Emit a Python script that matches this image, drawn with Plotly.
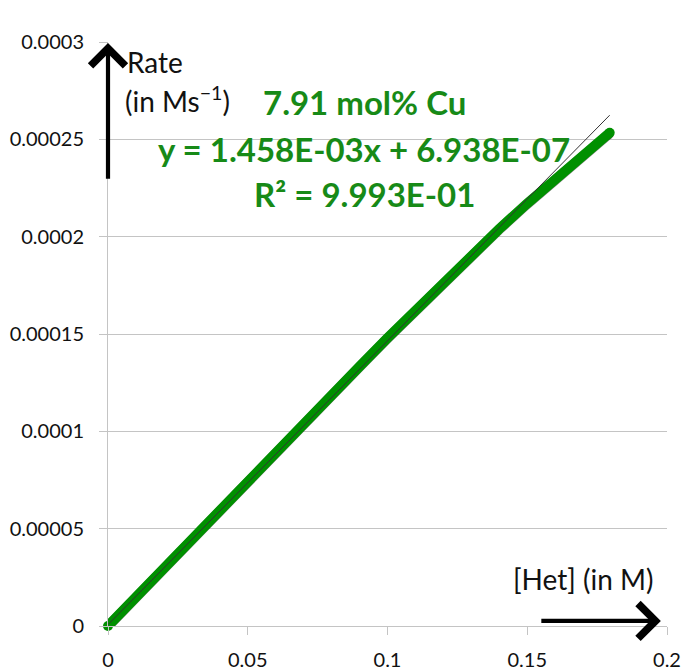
import plotly.graph_objects as go

# ---- data ----
het = [0.0, 0.01, 0.02, 0.03, 0.04, 0.05, 0.06, 0.07, 0.08, 0.09, 0.10,
       0.11, 0.12, 0.13, 0.14, 0.15, 0.16, 0.17, 0.1795]
rate = [0.0, 0.0000150, 0.0000298, 0.0000445, 0.0000595, 0.0000742, 0.0000890,
        0.0001038, 0.0001185, 0.0001333, 0.0001479, 0.0001622, 0.0001764,
        0.0001904, 0.0002040, 0.0002171, 0.0002298, 0.0002420, 0.0002534]
fit_slope = 1.458e-03
fit_intercept = 6.938e-07
fit_x = [0.0, 0.1795]
fit_y = [fit_slope * v + fit_intercept for v in fit_x]

y_tickvals = [0, 0.00005, 0.0001, 0.00015, 0.0002, 0.00025, 0.0003]
y_ticktext = ["0", "0.00005", "0.0001", "0.00015", "0.0002", "0.00025", "0.0003"]
x_tickvals = [0, 0.05, 0.1, 0.15, 0.2]
x_ticktext = ["0", "0.05", "0.1", "0.15", "0.2"]

W, H = 681, 672
L, R, T, B = 108, 14, 42, 46
PW, PH = W - L - R, H - T - B
XR = [0, 0.2]
YR = [0, 0.0003]

def px(xp):
    return (xp - L) / PW

def py(yp):
    return (H - B - yp) / PH

GREEN_LINE = "#009000"
GREEN_TEXT = "#178a17"
FONT = "Lato"
GRID = "#c4c4c4"

fig = go.Figure()

# soft shadow (same data drawn on slightly offset overlay axes x2/y2)
dx = 1.0 / PW * (XR[1] - XR[0])
dy = 1.5 / PH * (YR[1] - YR[0])
fig.add_trace(go.Scatter(x=het, y=rate, mode="lines", xaxis="x2", yaxis="y2",
                         line=dict(color="rgba(0,0,0,0.45)", width=10),
                         cliponaxis=False, hoverinfo="skip", showlegend=False))
fig.add_trace(go.Scatter(x=[het[0], het[-1]], y=[rate[0], rate[-1]], mode="markers",
                         xaxis="x2", yaxis="y2", cliponaxis=False,
                         marker=dict(color="rgba(0,0,0,0.45)", size=10, line=dict(width=0)),
                         hoverinfo="skip", showlegend=False))
# data (overlay x3/y3, same ranges as the base axes, drawn above the shadow)
fig.add_trace(go.Scatter(x=het, y=rate, mode="lines", xaxis="x3", yaxis="y3",
                         cliponaxis=False,
                         line=dict(color=GREEN_LINE, width=10), showlegend=False))
fig.add_trace(go.Scatter(x=[het[0], het[-1]], y=[rate[0], rate[-1]], mode="markers",
                         xaxis="x3", yaxis="y3", cliponaxis=False,
                         marker=dict(color=GREEN_LINE, size=10, line=dict(width=0)),
                         showlegend=False))
# linear trendline
fig.add_trace(go.Scatter(x=fit_x, y=fit_y, mode="lines", xaxis="x3", yaxis="y3",
                         line=dict(color="#333333", width=1), showlegend=False))

annotations = [
    dict(text="Rate", x=px(125), y=py(62), xanchor="left", yanchor="middle",
         font=dict(size=28, color="#111111", family=FONT)),
    dict(text="(in Ms<sup>\u22121</sup>)", x=px(123), y=py(99), xanchor="left", yanchor="middle",
         font=dict(size=28, color="#111111", family=FONT)),
    dict(text="<b>7.91 mol% Cu</b>", x=px(364), y=py(102), xanchor="center", yanchor="middle",
         font=dict(size=33, color=GREEN_TEXT, family=FONT)),
    dict(text="<b>y = 1.458E-03x + 6.938E-07</b>", x=px(364), y=py(149), xanchor="center",
         yanchor="middle", font=dict(size=33, color=GREEN_TEXT, family=FONT)),
    dict(text="<b>R\u00b2 = 9.993E-01</b>", x=px(364), y=py(194), xanchor="center",
         yanchor="middle", font=dict(size=33, color=GREEN_TEXT, family=FONT)),
    dict(text="[Het] (in M)", x=px(511), y=py(579), xanchor="left", yanchor="middle",
         font=dict(size=28, color="#111111", family=FONT)),
]
for a in annotations:
    a.update(xref="paper", yref="paper", showarrow=False)

# arrows
annotations.append(dict(x=0, y=0.0002995, ax=0, ay=0.000229, xref="x", yref="y",
                        axref="x", ayref="y", text="", showarrow=True, arrowhead=4,
                        arrowsize=1.6, arrowwidth=4.2, arrowcolor="#000000"))
annotations.append(dict(x=0.1978, y=0.0000026, ax=0.1545, ay=0.0000026, xref="x", yref="y",
                        axref="x", ayref="y", text="", showarrow=True, arrowhead=4,
                        arrowsize=1.6, arrowwidth=4.2, arrowcolor="#000000"))

fig.update_layout(
    width=W, height=H,
    margin=dict(l=L, r=R, t=T, b=B),
    paper_bgcolor="white", plot_bgcolor="white",
    showlegend=False,
    font=dict(family=FONT, size=20, color="#111111"),
    annotations=annotations,
    xaxis=dict(range=XR, tickvals=x_tickvals, ticktext=x_ticktext, showgrid=False,
               zeroline=False, showline=True, linecolor=GRID, linewidth=1,
               ticks="outside", ticklen=8, tickcolor=GRID, tickwidth=1,
               ticklabelstandoff=8, automargin=False,
               tickfont=dict(size=20, color="#111111")),
    yaxis=dict(range=YR, tickvals=y_tickvals, ticktext=y_ticktext, showgrid=True,
               gridcolor=GRID, gridwidth=1, zeroline=False, showline=True,
               linecolor=GRID, linewidth=1, ticks="outside", ticklen=8,
               tickcolor=GRID, tickwidth=1, ticklabelstandoff=11, automargin=False,
               tickfont=dict(size=20, color="#111111")),
    xaxis2=dict(range=[XR[0] + dx, XR[1] + dx], overlaying="x", visible=False),
    yaxis2=dict(range=[YR[0] + dy, YR[1] + dy], overlaying="y", visible=False),
    xaxis3=dict(range=XR, overlaying="x", visible=False),
    yaxis3=dict(range=YR, overlaying="y", visible=False),
)

fig.write_html("out.html")
